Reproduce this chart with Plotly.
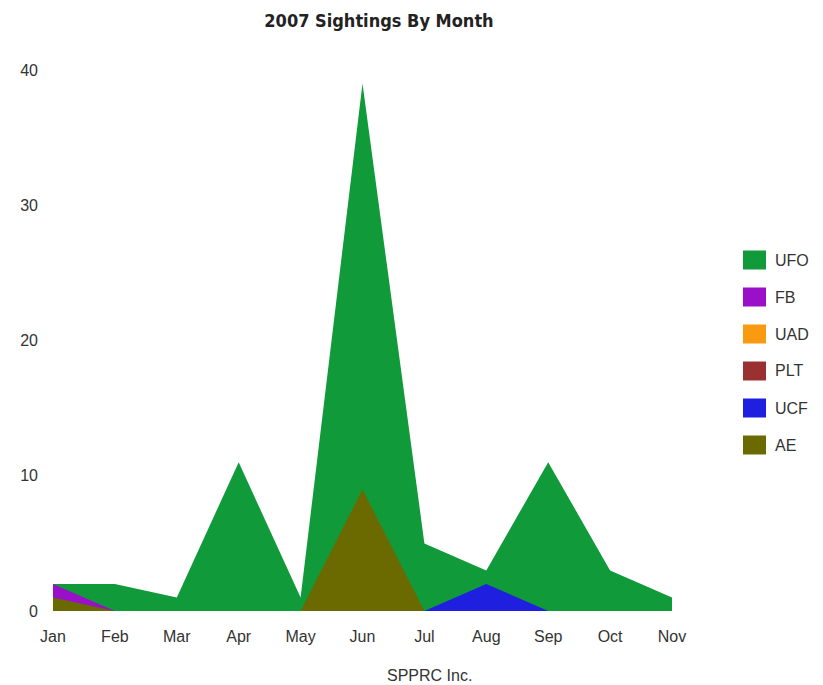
import plotly.graph_objects as go

months = ["Jan", "Feb", "Mar", "Apr", "May", "Jun", "Jul", "Aug", "Sep", "Oct", "Nov"]
ufo = [2, 2, 1, 11, 1, 39, 5, 3, 11, 3, 1]
fb = [2, 0, 0, 0, 0, 0, 0, 0, 0, 0, 0]
uad = [0, 0, 0, 0, 0, 0, 0, 0, 0, 0, 0]
plt_ = [0, 0, 0, 0, 0, 0, 0, 0, 0, 0, 0]
ucf = [0, 0, 0, 0, 0, 0, 0, 2, 0, 0, 0]
ae = [1, 0, 0, 0, 0, 9, 0, 0, 0, 0, 0]

series = [
    ("UFO", ufo, "#119a3a"),
    ("FB", fb, "#9a10c8"),
    ("UAD", uad, "#f99a10"),
    ("PLT", plt_, "#9a3030"),
    ("UCF", ucf, "#1f1fe0"),
    ("AE", ae, "#6a6a00"),
]

W, H = 815, 677  # page adds 8px body margin
ML, MR, MT, MB = 45, 151, 62, 74
PW, PH = W - ML - MR, H - MT - MB


def px(x):  # page pixel -> paper x
    return (x - 8 - ML) / PW


def py(y):  # page pixel -> paper y
    return (H - MB + 8 - y) / PH


fig = go.Figure()
for name, vals, col in series:
    fig.add_trace(go.Scatter(
        x=months, y=vals, mode="none", fill="tozeroy", fillcolor=col,
        name=name, showlegend=False, hoverinfo="x+y+name",
    ))

shapes, annots = [], []
for i, (name, vals, col) in enumerate(series):
    cy = 260 + i * 37
    shapes.append(dict(type="rect", xref="paper", yref="paper",
                       x0=px(743), x1=px(766), y0=py(cy + 9.5), y1=py(cy - 9.5),
                       fillcolor=col, line=dict(width=0)))
    annots.append(dict(text=name, xref="paper", yref="paper", x=px(773), y=py(cy),
                       xanchor="left", yanchor="middle", showarrow=False,
                       font=dict(size=16, color="#333")))

annots.append(dict(text="SPPRC Inc.", x=px(429), xref="paper", xanchor="center",
                   y=py(675), yref="paper", yanchor="middle",
                   showarrow=False, font=dict(size=16, color="#333")))

fig.update_layout(
    width=W, height=H,
    paper_bgcolor="white", plot_bgcolor="white",
    margin=dict(l=ML, r=MR, t=MT, b=MB),
    showlegend=False,
    title=dict(text="<b>2007 Sightings By Month</b>", x=(379 - 8) / W, xanchor="center",
               xref="container", y=1 - 13 / H, yanchor="middle",
               font=dict(family="DejaVu Sans Condensed", size=18, color="#222")),
    font=dict(family="Liberation Sans", size=16, color="#333"),
    xaxis=dict(range=[0, 10], showgrid=False, zeroline=False, showline=False,
               ticks="", ticklabelstandoff=14, tickfont=dict(size=16, color="#333")),
    yaxis=dict(range=[0, 40], showgrid=False, zeroline=False, showline=False,
               tickvals=[0, 10, 20, 30, 40], ticks="", ticklabelstandoff=14,
               tickfont=dict(size=16, color="#333")),
    shapes=shapes,
    annotations=annots,
)

fig.write_html("out.html")
